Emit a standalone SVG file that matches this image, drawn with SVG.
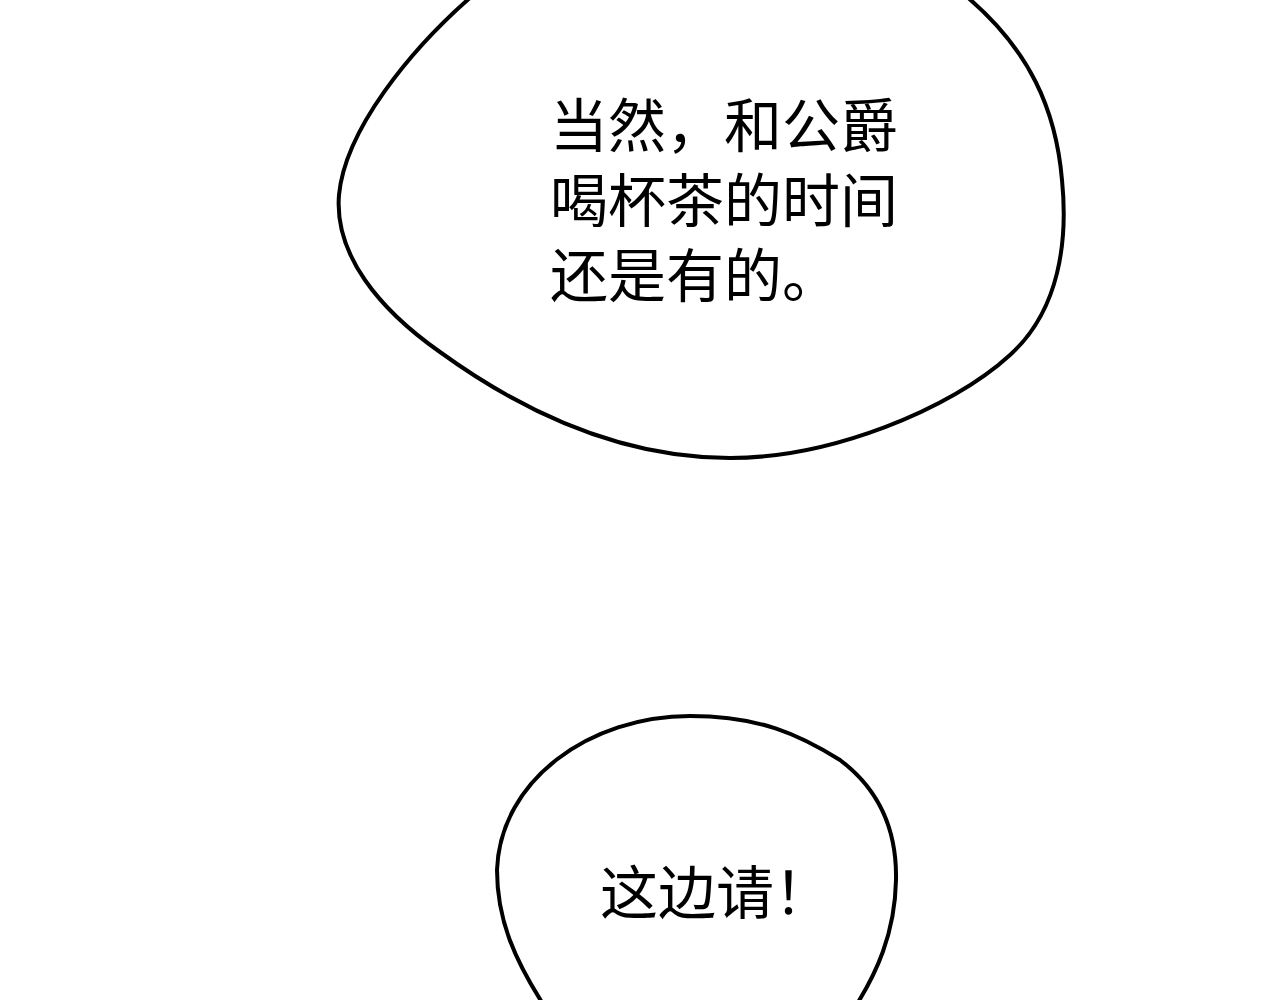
<svg xmlns="http://www.w3.org/2000/svg" width="1280" height="1000" viewBox="0 0 1280 1000">
<style>
.bubble{fill:#fff;stroke:#000;stroke-width:4;stroke-linejoin:round}
.t{font-family:"Noto Sans CJK SC","Noto Sans",sans-serif;font-size:58px;font-weight:400;fill:#000}
</style>
<rect width="1280" height="1000" fill="#fff"/>
<g id="bubble1">
<path class="bubble" d="M472,-4 C410,50 345,130 339,195 C334,255 380,310 440,352 C520,410 620,458 730,458 C830,458 950,410 1010,355 C1060,310 1068,240 1062,180 C1056,110 1030,50 966,-4"/>
<text class="t" x="550" y="147">当然，和公爵</text>
<text class="t" x="550" y="222">喝杯茶的时间</text>
<text class="t" x="550" y="297">还是有的。</text>
</g>
<g id="bubble2">
<path class="bubble" d="M543,1004 C515,960 497,920 497,870 C500,780 590,716 690,716 C760,716 800,735 840,760 C880,790 897,830 896,880 C895,935 875,975 857,1004"/>
<text class="t" x="600" y="914">这边请！</text>
</g>
</svg>
